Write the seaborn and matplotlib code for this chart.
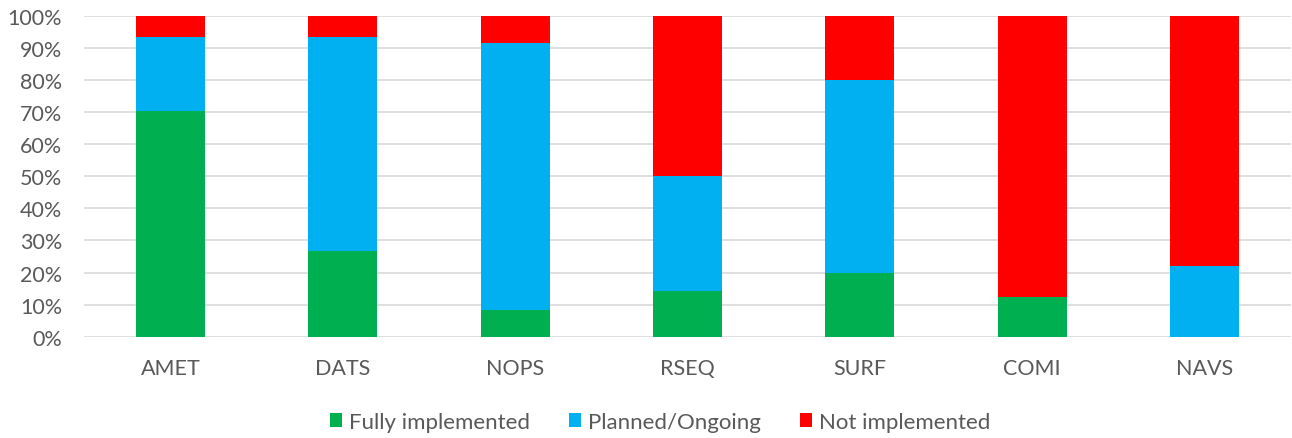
import matplotlib
matplotlib.use("Agg")
import matplotlib.pyplot as plt
import seaborn as sns
import numpy as np
from matplotlib.patches import Patch

categories = ["AMET", "DATS", "NOPS", "RSEQ", "SURF", "COMI", "NAVS"]
fully = [70.4, 26.7, 8.3, 14.3, 20.0, 12.5, 0.0]
planned = [22.9, 66.6, 83.4, 35.7, 60.0, 0.0, 22.1]
not_impl = [6.7, 6.7, 8.3, 50.0, 20.0, 87.5, 77.9]
series_names = ["Fully implemented", "Planned/Ongoing", "Not implemented"]
colors = ["#00B050", "#00B0F0", "#FF0000"]

sns.set_theme(style="white")
plt.rcParams['font.family'] = ['Lato', 'DejaVu Sans']

fig = plt.figure(figsize=(12.92, 4.39), dpi=100)
ax = fig.add_axes([84.3 / 1292, (439 - 337.7) / 439, (1290.7 - 84.3) / 1292, 320.7 / 439])

bottom = np.zeros(len(categories))
for vals, col in zip([fully, planned, not_impl], colors):
    sns.barplot(x=categories, y=vals, bottom=bottom, color=col, width=0.4,
                ax=ax, saturation=1, zorder=3, linewidth=0)
    bottom = bottom + np.array(vals)

ax.set_ylim(0, 100)
ax.set_xlim(-0.5, len(categories) - 0.5)
ax.set_yticks(np.arange(0, 101, 10))
ax.set_yticklabels([f"{v}%" for v in range(0, 101, 10)])
ax.yaxis.grid(True, color="#D9D9D9", linewidth=1.2, zorder=0)
ax.xaxis.grid(False)
for s in ax.spines.values():
    s.set_visible(False)
ax.tick_params(axis="both", length=0, labelsize=15.5, colors="#595959")
ax.tick_params(axis="x", pad=15)
ax.tick_params(axis="y", pad=16)
ax.set_xlabel("")
ax.set_ylabel("")

handles = [Patch(facecolor=c, edgecolor="none", label=n) for c, n in zip(colors, series_names)]
fig.legend(handles=handles, loc="center", bbox_to_anchor=(0.511, 0.037), ncol=3,
           frameon=False, fontsize=16, handlelength=0.55, handleheight=0.55,
           handletextpad=0.32, columnspacing=1.75, labelcolor="#595959")

fig.savefig("out.png", dpi=100)
